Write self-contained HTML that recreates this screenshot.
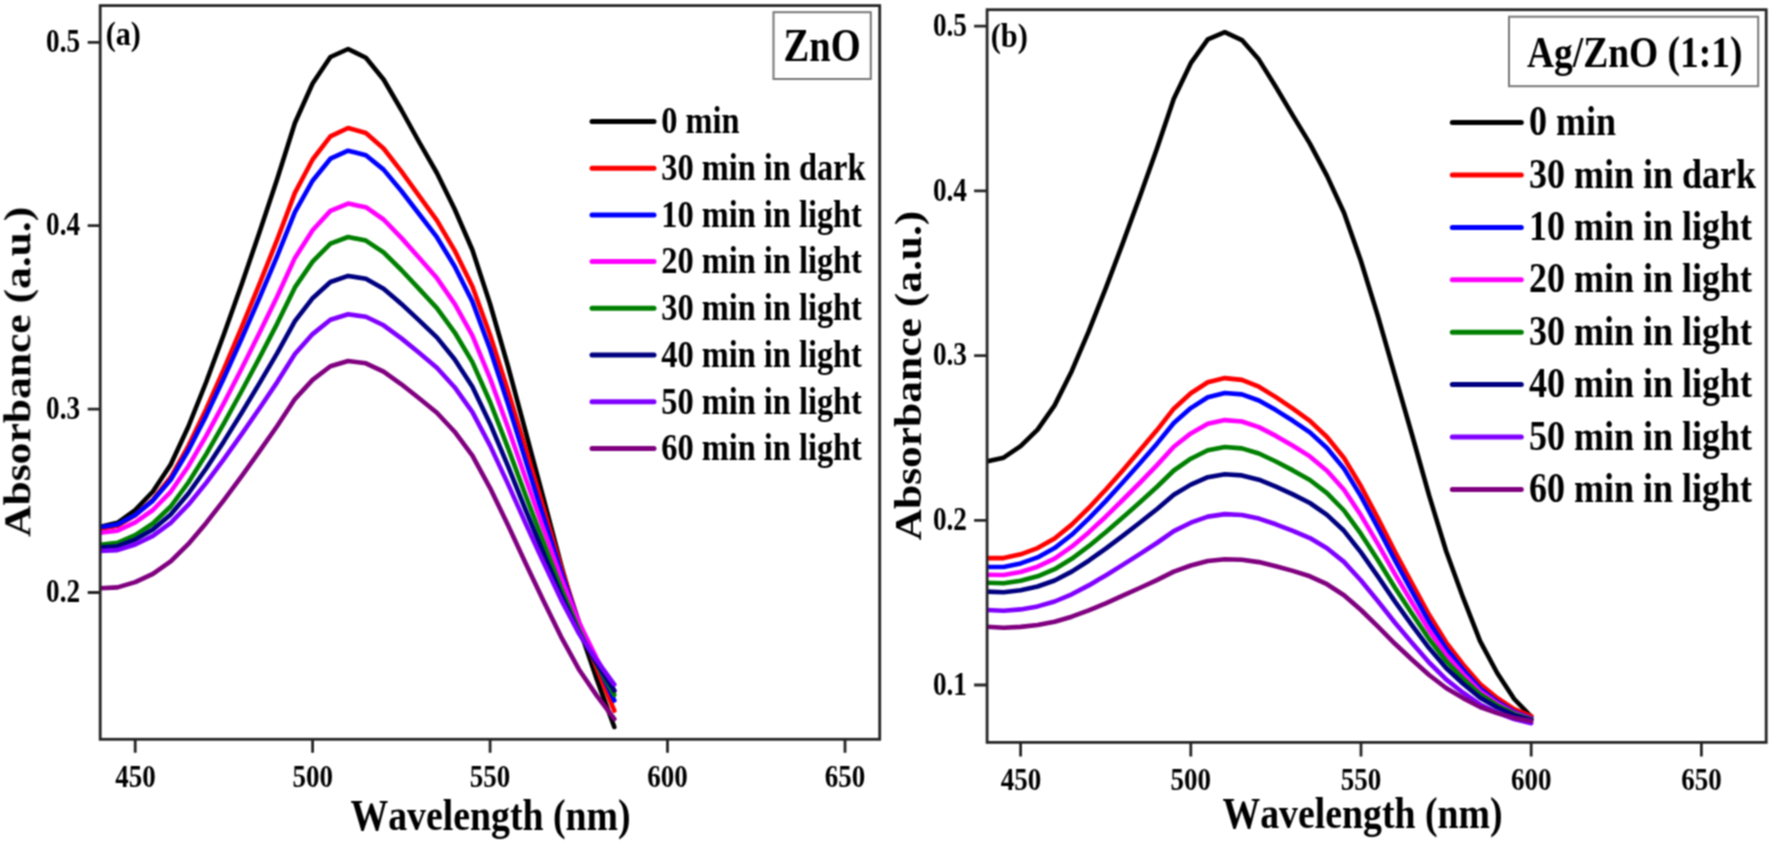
<!DOCTYPE html>
<html lang="en"><head><meta charset="utf-8"><title>UV-Vis absorbance spectra: ZnO and Ag/ZnO (1:1)</title>
<style>
html,body{margin:0;padding:0;background:#fff}
body{width:1771px;height:844px;overflow:hidden}
svg{display:block;font-family:"Liberation Serif","Times New Roman",serif;font-weight:bold;font-kerning:none;fill:#000}
</style></head><body>
<svg width="1771" height="844" viewBox="0 0 1771 844">
<rect width="1771" height="844" fill="#fff"/>
<g filter="url(#soft)">
<defs><filter id="soft" x="0" y="0" width="1771" height="844" filterUnits="userSpaceOnUse" color-interpolation-filters="sRGB"><feConvolveMatrix order="3" kernelMatrix="1 2 1 2 4 2 1 2 1" divisor="16" edgeMode="duplicate" preserveAlpha="false"/></filter><clipPath id="ca"><rect x="100.2" y="5.6" width="779.5" height="733.7"/></clipPath><clipPath id="cb"><rect x="987.1" y="9.7" width="779.1" height="732.7"/></clipPath></defs>
<g fill="none" stroke-linejoin="round" stroke-linecap="round">
<g clip-path="url(#ca)">
<polyline points="99.7,527.0 117.5,522.8 135.2,510.0 152.9,491.5 170.7,464.5 188.4,426.5 206.2,382.0 223.9,334.3 241.7,284.2 259.4,232.5 277.2,179.0 294.9,123.0 312.6,83.5 330.4,57.0 348.1,49.0 365.9,57.8 383.6,79.5 401.4,110.0 419.1,142.0 436.9,173.0 454.6,209.0 472.4,250.0 490.1,304.0 507.8,365.5 525.6,431.5 543.3,497.5 561.1,564.8 578.8,626.7 596.6,678.7 614.3,727.0" stroke="#000000" stroke-width="4.6"/>
<polyline points="99.7,529.1 117.5,525.8 135.2,515.2 152.9,499.8 170.7,477.3 188.4,445.8 206.2,408.9 223.9,369.1 241.7,327.2 259.4,284.1 277.2,239.7 294.9,192.9 312.6,159.5 330.4,136.4 348.1,128.0 365.9,133.0 383.6,148.5 401.4,171.4 419.1,195.8 436.9,220.3 454.6,250.3 472.4,286.5 490.1,335.0 507.8,390.1 525.6,448.6 543.3,507.4 561.1,567.1 578.8,621.8 596.6,667.9 614.3,710.7" stroke="#ff0000" stroke-width="4.6"/>
<polyline points="99.7,527.3 117.5,524.6 135.2,515.0 152.9,500.6 170.7,479.7 188.4,450.3 206.2,415.6 223.9,378.1 241.7,338.6 259.4,298.1 277.2,256.2 294.9,212.2 312.6,180.7 330.4,158.7 348.1,150.7 365.9,155.2 383.6,169.6 401.4,191.0 419.1,214.0 436.9,237.2 454.6,266.2 472.4,301.6 490.1,349.2 507.8,403.2 525.6,460.4 543.3,516.3 561.1,572.0 578.8,622.1 596.6,663.1 614.3,700.5" stroke="#0000ff" stroke-width="4.6"/>
<polyline points="99.7,532.8 117.5,530.7 135.2,522.4 152.9,510.0 170.7,491.8 188.4,466.2 206.2,435.9 223.9,403.1 241.7,368.5 259.4,333.0 277.2,296.5 294.9,257.9 312.6,230.3 330.4,210.9 348.1,203.6 365.9,207.2 383.6,219.5 401.4,237.9 419.1,257.8 436.9,278.1 454.6,303.7 472.4,335.6 490.1,378.4 507.8,427.0 525.6,478.3 543.3,528.2 561.1,577.8 578.8,622.1 596.6,658.3 614.3,691.1" stroke="#ff00ff" stroke-width="4.6"/>
<polyline points="99.7,544.8 117.5,542.9 135.2,535.1 152.9,523.5 170.7,506.5 188.4,482.5 206.2,454.1 223.9,423.4 241.7,391.0 259.4,357.8 277.2,323.6 294.9,287.4 312.6,261.6 330.4,243.6 348.1,237.0 365.9,240.6 383.6,252.4 401.4,270.0 419.1,288.9 436.9,308.1 454.6,332.3 472.4,362.1 490.1,402.0 507.8,447.3 525.6,495.2 543.3,541.9 561.1,588.3 578.8,629.9 596.6,664.0 614.3,694.9" stroke="#008000" stroke-width="4.6"/>
<polyline points="99.7,547.6 117.5,546.2 135.2,539.6 152.9,529.5 170.7,514.6 188.4,493.5 206.2,468.5 223.9,441.4 241.7,412.7 259.4,383.4 277.2,353.1 294.9,321.1 312.6,298.2 330.4,282.0 348.1,275.9 365.9,278.7 383.6,288.7 401.4,303.9 419.1,320.4 436.9,337.4 454.6,359.2 472.4,386.7 490.1,423.7 507.8,465.7 525.6,509.9 543.3,552.7 561.1,594.9 578.8,632.5 596.6,663.0 614.3,690.6" stroke="#000080" stroke-width="4.6"/>
<polyline points="99.7,551.0 117.5,550.1 135.2,544.5 152.9,535.9 170.7,522.9 188.4,504.7 206.2,482.9 223.9,459.2 241.7,434.1 259.4,408.5 277.2,382.1 294.9,354.1 312.6,334.1 330.4,319.8 348.1,314.3 365.9,316.7 383.6,325.3 401.4,338.4 419.1,352.8 436.9,367.7 454.6,387.2 472.4,412.1 490.1,445.6 507.8,483.6 525.6,523.4 543.3,561.9 561.1,599.6 578.8,633.1 596.6,660.2 614.3,684.5" stroke="#8000ff" stroke-width="4.6"/>
<polyline points="99.7,588.2 117.5,587.4 135.2,582.1 152.9,573.8 170.7,561.4 188.4,543.9 206.2,522.9 223.9,500.1 241.7,476.1 259.4,451.4 277.2,426.0 294.9,399.1 312.6,379.9 330.4,366.2 348.1,361.0 365.9,363.3 383.6,371.6 401.4,384.3 419.1,398.3 436.9,412.8 454.6,431.7 472.4,455.7 490.1,488.1 507.8,524.8 525.6,563.2 543.3,600.4 561.1,636.8 578.8,669.2 596.6,695.4 614.3,718.9" stroke="#800080" stroke-width="4.6"/>
</g><g clip-path="url(#cb)">
<polyline points="986.6,461.5 1003.6,457.7 1020.6,446.2 1037.6,429.6 1054.6,405.4 1071.7,371.2 1088.7,331.3 1105.7,288.4 1122.7,243.4 1139.7,197.0 1156.8,149.0 1173.8,98.7 1190.8,63.2 1207.8,39.4 1224.8,32.2 1241.9,40.1 1258.9,59.6 1275.9,87.0 1292.9,115.7 1309.9,143.6 1327.0,175.9 1344.0,212.7 1361.0,261.2 1378.0,316.4 1395.0,375.7 1412.1,435.0 1429.1,495.4 1446.1,551.0 1463.1,597.7 1480.1,641.1 1497.2,673.0 1514.2,699.0 1531.2,716.5" stroke="#000000" stroke-width="4.6"/>
<polyline points="986.6,558.1 1003.6,558.1 1020.6,554.3 1037.6,548.1 1054.6,538.5 1071.7,524.6 1088.7,508.0 1105.7,489.7 1122.7,470.4 1139.7,450.6 1156.8,430.3 1173.8,408.7 1190.8,393.2 1207.8,382.2 1224.8,378.1 1241.9,379.9 1258.9,386.7 1275.9,397.1 1292.9,408.6 1309.9,420.8 1327.0,437.0 1344.0,458.0 1361.0,486.3 1378.0,518.3 1395.0,551.7 1412.1,583.7 1429.1,614.8 1446.1,642.3 1463.1,664.4 1480.1,684.1 1497.2,698.0 1514.2,709.1 1531.2,716.1" stroke="#ff0000" stroke-width="4.6"/>
<polyline points="986.6,567.0 1003.6,567.0 1020.6,563.4 1037.6,557.4 1054.6,548.1 1071.7,534.8 1088.7,518.7 1105.7,501.1 1122.7,482.5 1139.7,463.5 1156.8,443.9 1173.8,423.0 1190.8,408.1 1207.8,397.3 1224.8,393.0 1241.9,394.4 1258.9,400.5 1275.9,410.1 1292.9,420.8 1309.9,432.4 1327.0,448.0 1344.0,468.6 1361.0,496.4 1378.0,527.8 1395.0,560.4 1412.1,591.7 1429.1,621.9 1446.1,648.5 1463.1,669.7 1480.1,688.5 1497.2,701.7 1514.2,712.0 1531.2,718.5" stroke="#0000ff" stroke-width="4.6"/>
<polyline points="986.6,574.8 1003.6,575.0 1020.6,572.0 1037.6,566.7 1054.6,558.6 1071.7,546.7 1088.7,532.4 1105.7,516.7 1122.7,500.0 1139.7,483.0 1156.8,465.4 1173.8,446.7 1190.8,433.4 1207.8,423.8 1224.8,420.1 1241.9,421.5 1258.9,427.1 1275.9,435.9 1292.9,445.8 1309.9,456.4 1327.0,470.7 1344.0,489.7 1361.0,515.3 1378.0,544.1 1395.0,574.1 1412.1,602.7 1429.1,630.4 1446.1,654.7 1463.1,674.1 1480.1,691.4 1497.2,703.4 1514.2,713.0 1531.2,719.0" stroke="#ff00ff" stroke-width="4.6"/>
<polyline points="986.6,582.8 1003.6,583.3 1020.6,580.7 1037.6,576.3 1054.6,569.2 1071.7,558.8 1088.7,546.2 1105.7,532.3 1122.7,517.6 1139.7,502.5 1156.8,487.0 1173.8,470.5 1190.8,458.7 1207.8,450.3 1224.8,447.0 1241.9,448.4 1258.9,453.5 1275.9,461.5 1292.9,470.4 1309.9,480.0 1327.0,493.1 1344.0,510.5 1361.0,533.9 1378.0,560.3 1395.0,587.7 1412.1,613.8 1429.1,639.0 1446.1,661.0 1463.1,678.7 1480.1,694.3 1497.2,705.3 1514.2,713.9 1531.2,719.4" stroke="#008000" stroke-width="4.6"/>
<polyline points="986.6,591.6 1003.6,592.2 1020.6,590.3 1037.6,586.5 1054.6,580.5 1071.7,571.6 1088.7,560.7 1105.7,548.6 1122.7,535.8 1139.7,522.7 1156.8,509.2 1173.8,494.8 1190.8,484.6 1207.8,477.2 1224.8,474.3 1241.9,475.4 1258.9,479.7 1275.9,486.6 1292.9,494.4 1309.9,503.0 1327.0,514.9 1344.0,530.8 1361.0,552.4 1378.0,576.6 1395.0,601.6 1412.1,625.4 1429.1,648.1 1446.1,668.0 1463.1,683.8 1480.1,697.7 1497.2,707.5 1514.2,715.1 1531.2,720.0" stroke="#000080" stroke-width="4.6"/>
<polyline points="986.6,610.0 1003.6,610.8 1020.6,609.4 1037.6,606.4 1054.6,601.5 1071.7,594.3 1088.7,585.4 1105.7,575.4 1122.7,564.9 1139.7,554.1 1156.8,543.0 1173.8,531.1 1190.8,522.7 1207.8,516.6 1224.8,514.1 1241.9,515.0 1258.9,518.6 1275.9,524.3 1292.9,530.8 1309.9,538.1 1327.0,548.2 1344.0,561.9 1361.0,580.5 1378.0,601.3 1395.0,622.8 1412.1,643.1 1429.1,662.5 1446.1,679.4 1463.1,692.7 1480.1,704.5 1497.2,712.6 1514.2,719.1 1531.2,723.2" stroke="#8000ff" stroke-width="4.6"/>
<polyline points="986.6,626.7 1003.6,627.7 1020.6,626.9 1037.6,625.0 1054.6,621.7 1071.7,616.7 1088.7,610.4 1105.7,603.3 1122.7,595.7 1139.7,588.0 1156.8,580.1 1173.8,571.6 1190.8,565.5 1207.8,561.0 1224.8,559.2 1241.9,559.7 1258.9,562.1 1275.9,566.2 1292.9,570.9 1309.9,576.3 1327.0,584.2 1344.0,595.2 1361.0,610.0 1378.0,626.7 1395.0,643.8 1412.1,659.8 1429.1,675.0 1446.1,688.0 1463.1,698.1 1480.1,707.0 1497.2,713.1 1514.2,717.9 1531.2,720.9" stroke="#800080" stroke-width="4.6"/>
</g>
<path d="M592 121.5H654" stroke="#000000" stroke-width="5"/>
<path d="M1452.3 122.6H1521.3" stroke="#000000" stroke-width="5"/>
<path d="M592 168.2H654" stroke="#ff0000" stroke-width="5"/>
<path d="M1452.3 175.0H1521.3" stroke="#ff0000" stroke-width="5"/>
<path d="M592 214.9H654" stroke="#0000ff" stroke-width="5"/>
<path d="M1452.3 227.4H1521.3" stroke="#0000ff" stroke-width="5"/>
<path d="M592 261.6H654" stroke="#ff00ff" stroke-width="5"/>
<path d="M1452.3 279.8H1521.3" stroke="#ff00ff" stroke-width="5"/>
<path d="M592 308.3H654" stroke="#008000" stroke-width="5"/>
<path d="M1452.3 332.2H1521.3" stroke="#008000" stroke-width="5"/>
<path d="M592 355.0H654" stroke="#000080" stroke-width="5"/>
<path d="M1452.3 384.6H1521.3" stroke="#000080" stroke-width="5"/>
<path d="M592 401.7H654" stroke="#8000ff" stroke-width="5"/>
<path d="M1452.3 437.0H1521.3" stroke="#8000ff" stroke-width="5"/>
<path d="M592 448.4H654" stroke="#800080" stroke-width="5"/>
<path d="M1452.3 489.4H1521.3" stroke="#800080" stroke-width="5"/>
</g>
<g stroke="#262626" stroke-width="2.8" fill="none" stroke-linecap="butt">
<rect x="100.2" y="5.6" width="779.5" height="733.7"/>
<path d="M87.7 42.3H100.2M87.7 225.7H100.2M87.7 409.1H100.2M87.7 592.5H100.2M135.2 739.3V752.8M312.6 739.3V752.8M490.1 739.3V752.8M667.5 739.3V752.8M845.0 739.3V752.8"/>
</g>
<g stroke="#262626" stroke-width="2.8" fill="none" stroke-linecap="butt">
<rect x="987.1" y="9.7" width="779.1" height="732.7"/>
<path d="M974.1 26.2H987.1M974.1 190.9H987.1M974.1 355.6H987.1M974.1 520.3H987.1M974.1 685.0H987.1M1020.6 742.4V756.4M1190.8 742.4V756.4M1361.0 742.4V756.4M1531.2 742.4V756.4M1701.4 742.4V756.4"/>
</g>
<rect x="773.5" y="12.2" width="97.3" height="66.8" fill="#fff" stroke="#777" stroke-width="2"/>
<rect x="1509" y="16.7" width="249.2" height="69.5" fill="#fff" stroke="#777" stroke-width="2"/>
<g font-size="100">
<text transform="translate(105.64,44.77) scale(0.3023,0.3444)">(a)</text>
<text transform="translate(990.63,46.50) scale(0.3040,0.3333)">(b)</text>
<text transform="translate(46.11,51.80) scale(0.2720,0.3360)">0.5</text>
<text transform="translate(46.11,235.20) scale(0.2720,0.3360)">0.4</text>
<text transform="translate(46.11,418.60) scale(0.2720,0.3360)">0.3</text>
<text transform="translate(46.11,602.00) scale(0.2720,0.3360)">0.2</text>
<text transform="translate(932.91,35.90) scale(0.2720,0.3360)">0.5</text>
<text transform="translate(932.91,200.60) scale(0.2720,0.3360)">0.4</text>
<text transform="translate(932.91,365.30) scale(0.2720,0.3360)">0.3</text>
<text transform="translate(932.91,530.00) scale(0.2720,0.3360)">0.2</text>
<text transform="translate(932.91,694.70) scale(0.2720,0.3360)">0.1</text>
<text transform="translate(115.29,786.70) scale(0.2700,0.3220)">450</text>
<text transform="translate(1000.69,790.20) scale(0.2700,0.3220)">450</text>
<text transform="translate(292.40,786.70) scale(0.2700,0.3220)">500</text>
<text transform="translate(1170.55,790.20) scale(0.2700,0.3220)">500</text>
<text transform="translate(469.85,786.70) scale(0.2700,0.3220)">550</text>
<text transform="translate(1340.75,790.20) scale(0.2700,0.3220)">550</text>
<text transform="translate(647.37,786.70) scale(0.2700,0.3220)">600</text>
<text transform="translate(1511.02,790.20) scale(0.2700,0.3220)">600</text>
<text transform="translate(824.82,786.70) scale(0.2700,0.3220)">650</text>
<text transform="translate(1681.22,790.20) scale(0.2700,0.3220)">650</text>
<text transform="translate(783.57,61.34) scale(0.3858,0.4552)">ZnO</text>
<text transform="translate(1526.92,66.70) scale(0.3750,0.4380)">Ag/ZnO (1:1)</text>
<text transform="translate(661.2,133.30) scale(0.324,0.382)">0 min</text>
<text transform="translate(1529.1,135.20) scale(0.360,0.419)">0 min</text>
<text transform="translate(661.2,180.00) scale(0.324,0.382)">30 min in dark</text>
<text transform="translate(1529.1,187.60) scale(0.360,0.419)">30 min in dark</text>
<text transform="translate(661.2,226.70) scale(0.324,0.382)">10 min in light</text>
<text transform="translate(1529.1,240.00) scale(0.360,0.419)">10 min in light</text>
<text transform="translate(661.2,273.40) scale(0.324,0.382)">20 min in light</text>
<text transform="translate(1529.1,292.40) scale(0.360,0.419)">20 min in light</text>
<text transform="translate(661.2,320.10) scale(0.324,0.382)">30 min in light</text>
<text transform="translate(1529.1,344.80) scale(0.360,0.419)">30 min in light</text>
<text transform="translate(661.2,366.80) scale(0.324,0.382)">40 min in light</text>
<text transform="translate(1529.1,397.20) scale(0.360,0.419)">40 min in light</text>
<text transform="translate(661.2,413.50) scale(0.324,0.382)">50 min in light</text>
<text transform="translate(1529.1,449.60) scale(0.360,0.419)">50 min in light</text>
<text transform="translate(661.2,460.20) scale(0.324,0.382)">60 min in light</text>
<text transform="translate(1529.1,502.00) scale(0.360,0.419)">60 min in light</text>
<text transform="translate(30.00,536.94) rotate(-90) scale(0.4356,0.3860)">Absorbance (a.u.)</text>
<text transform="translate(921.00,540.43) rotate(-90) scale(0.4350,0.3830)">Absorbance (a.u.)</text>
<text transform="translate(350.43,829.70) scale(0.3780,0.4330)">Wavelength (nm)</text>
<text transform="translate(1222.43,827.70) scale(0.3780,0.4330)">Wavelength (nm)</text>
</g>
</g>
</svg>
</body></html>
